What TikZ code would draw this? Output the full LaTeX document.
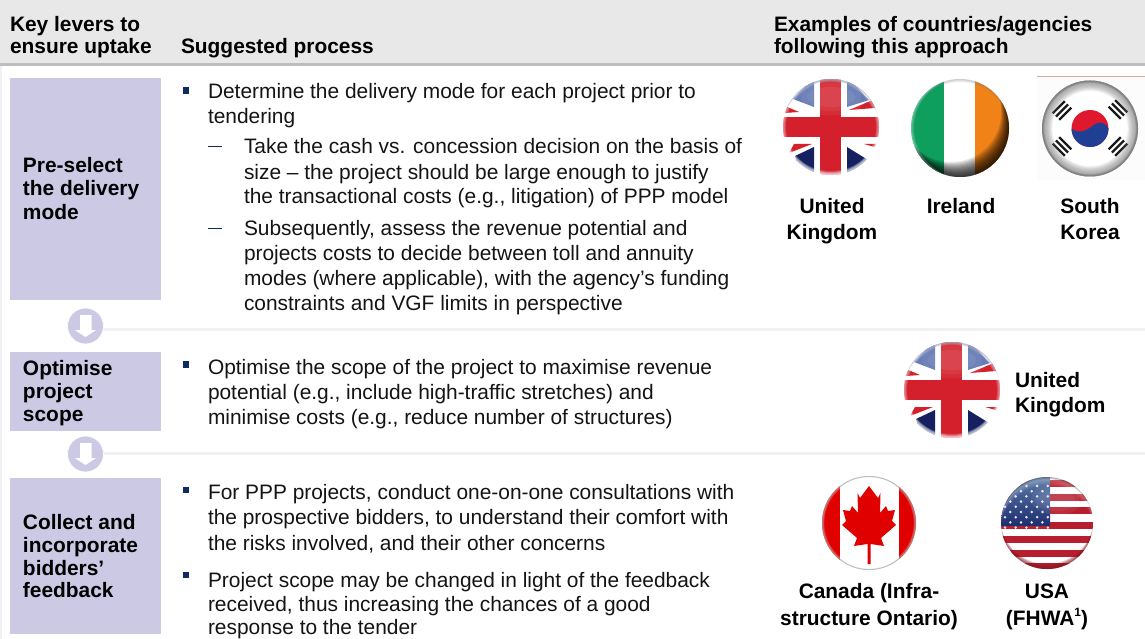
\documentclass[tikz,border=0pt]{standalone}
\usepackage{fontspec}
\setmainfont{Liberation Sans}
\usetikzlibrary{calc}
\definecolor{hdr}{HTML}{E8E8E8}
\definecolor{hdrline}{HTML}{BDBDBD}
\definecolor{lav}{HTML}{CCC9E5}
\definecolor{sep}{HTML}{F0F0F5}
\definecolor{navy}{HTML}{0F2A5C}
\definecolor{ink}{HTML}{141414}
\definecolor{ukblue}{HTML}{14205F}
\definecolor{ukpale}{HTML}{5E74B0}
\definecolor{ukred}{HTML}{D3202C}
\definecolor{irgreen}{HTML}{0E9F5E}
\definecolor{irorange}{HTML}{F08218}
\definecolor{krred}{HTML}{E0182D}
\definecolor{krblue}{HTML}{1F3F94}
\definecolor{usred}{HTML}{B81F2E}
\definecolor{usblue}{HTML}{1F2F70}
\definecolor{uspale}{HTML}{5A7AA8}
\tikzset{
  x=1pt,y=-1pt,
  txt/.style={anchor=base west,inner sep=0pt,outer sep=0pt,font=\fontsize{20.9}{24}\selectfont,text=ink},
  hd/.style={txt,font=\fontsize{20.9}{24}\selectfont\bfseries,text=black},
  lev/.style={txt,font=\fontsize{20.9}{24}\selectfont\bfseries,text=black},
  ctr/.style={lev,anchor=base},
  leverbox/.style={fill=lav,draw=none},
  sepline/.style={draw=sep,line width=3pt},
  blt/.style={fill=navy,draw=none,minimum size=6.3pt,inner sep=0pt,outer sep=0pt,anchor=center},
  dsh/.style={draw=navy,line width=1.8pt},
  downcirc/.style={circle,fill=lav,draw=white!92!lav,line width=0.8pt,minimum size=36pt,inner sep=0pt},
}
\begin{document}
\begin{tikzpicture}
\useasboundingbox (0,0) rectangle (1145,639);
\fill[white] (0,0) rectangle (1145,639);
% header
\fill[hdr] (0,0) rectangle (1145,63);
\fill[hdrline] (0,63) rectangle (1145,66.5);
\fill[sep] (0,66.5) rectangle (2,639);
\node[hd] (h1a) at (10,32) {Key levers to};
\node[hd] (h1b) at (10,54) {ensure uptake};
\node[hd] (h2) at (181,54) {Suggested process};
\node[hd] (h3a) at (774,32) {Examples of countries/agencies};
\node[hd] (h3b) at (774,54) {following this approach};
% separators
\coordinate (s1a) at (103,329); \coordinate (s1b) at (1145,329);
\coordinate (s2a) at (103,453); \coordinate (s2b) at (1145,453);
\draw[sepline] (s1a) -- (s1b);
\draw[sepline] (s2a) -- (s2b);
% lever boxes
\fill[leverbox] (10,78) rectangle (161,300);
\fill[leverbox] (10,352) rectangle (161,431);
\fill[leverbox] (10,478) rectangle (161,634);
\node[lev] (l1a) at (23,173) {Pre-select};
\node[lev] (l1b) at (23,196) {the delivery};
\node[lev] (l1c) at (23,219) {mode};
\node[lev] (l2a) at (23,375) {Optimise};
\node[lev] (l2b) at (23,398) {project};
\node[lev] (l2c) at (23,421) {scope};
\node[lev] (l3a) at (23,529) {Collect and};
\node[lev] (l3b) at (23,552) {incorporate};
\node[lev] (l3c) at (23,575) {bidders’};
\node[lev] (l3d) at (23,597) {feedback};
% down arrows
\foreach \n/\cy in {d1/326,d2/454}{
  \node[downcirc] (\n) at (85.5,\cy) {};
  \fill[white] (80,\cy-11) -- (91.5,\cy-11) -- (91.5,\cy+4) -- (96,\cy+4) -- (85.5,\cy+11) -- (75,\cy+4) -- (80,\cy+4) -- cycle;
}
% bullets
\node[blt] (b1) at (186,90.5) {};
\node[blt] (b2) at (186,364.5) {};
\node[blt] (b3) at (186,490) {};
\node[blt] (b4) at (186,575) {};
\draw[dsh] (208,146.5) -- (222,146.5);
\draw[dsh] (208,228.5) -- (222,228.5);
% body text
\node[txt] (t1) at (208,99) {Determine the delivery mode for each project prior to};
\node[txt] (t2) at (208,124) {tendering};
\node[txt] (t3) at (244,154) {Take the cash vs. concession decision on the basis of};
\node[txt] (t4) at (244,179) {size – the project should be large enough to justify};
\node[txt] (t5) at (244,204) {the transactional costs (e.g., litigation) of PPP model};
\node[txt] (t6) at (244,235) {Subsequently, assess the revenue potential and};
\node[txt] (t7) at (244,260) {projects costs to decide between toll and annuity};
\node[txt] (t8) at (244,285) {modes (where applicable), with the agency’s funding};
\node[txt] (t9) at (244,310) {constraints and VGF limits in perspective};
\node[txt] (t10) at (208,374) {Optimise the scope of the project to maximise revenue};
\node[txt] (t11) at (208,399) {potential (e.g., include high-traffic stretches) and};
\node[txt] (t12) at (208,424) {minimise costs (e.g., reduce number of structures)};
\node[txt] (t13) at (208,499) {For PPP projects, conduct one-on-one consultations with};
\node[txt] (t14) at (208,524) {the prospective bidders, to understand their comfort with};
\node[txt] (t15) at (208,550) {the risks involved, and their other concerns};
\node[txt] (t17) at (208,587) {Project scope may be changed in light of the feedback};
\node[txt] (t18) at (208,611.5) {received, thus increasing the chances of a good};
\node[txt] (t19) at (208,634.6) {response to the tender};
% UK flags
\foreach \cx/\cy in {831/127,952/390}{
\begin{scope}[shift={(\cx,\cy)}]
  \begin{scope}
    \clip (0,0) circle (48);
    \fill[white] (-50,-50) rectangle (50,50);
    \fill[ukpale] (-38,-28) -- (-17,-50) -- (-17,-20) -- cycle;
    \fill[ukpale] (16,-50) -- (38,-27) -- (16,-20) -- cycle;
    \fill[ukblue] (-36,29) -- (-17,20) -- (-17,50) -- (-30,50) -- cycle;
    \fill[ukblue] (16,20) -- (37,33) -- (30,50) -- (16,50) -- cycle;
    \fill[ukred] (18,-17) -- (44,-28) -- (44,-19) -- cycle;
    \fill[ukred] (-46,-21) -- (-32,-15) -- (-46,-14) -- cycle;
    \fill[ukred] (-42,26) -- (-19,17) -- (-37,17) -- cycle;
    \fill[ukred] (33,17) -- (47,17) -- (47,21) -- cycle;
    \fill[ukred] (-11,-50) rectangle (9.5,50);
    \fill[ukred] (-50,-10) rectangle (50,10);
    % darker rim on top, soft white glow low down
    \foreach \k in {2,4,6}{
      \fill[ukblue,opacity=0.3,even odd rule] (0,0) circle (49) (0,\k*0.5) circle (49);
    }
    \foreach \k in {2,4,6,8,10}{
      \fill[white,opacity=0.16,even odd rule] (0,0) circle (49) (0,-\k*0.5) circle (49);
    }
    \foreach \k in {1,...,5}{
      \draw[white,opacity=0.12,line width=\k*1.2pt] (0,0) circle (48);
    }
    \foreach \k in {8,14,20}{
      \fill[white,opacity=0.06] (0,-30) ellipse ({44-\k} and {24-\k*0.7});
    }
  \end{scope}
\end{scope}
}
% Ireland
\begin{scope}[shift={(960,128)}]
  \clip (0,0) circle (49);
  \fill[irgreen] (-50,-50) rectangle (-16,50);
  \fill[white] (-16,-50) rectangle (15,50);
  \fill[irorange] (15,-50) rectangle (50,50);
  \foreach \k in {1,...,16}{
    \fill[black,opacity=0.09,even odd rule] (0,0) circle (50) (-\k*0.55,-\k) circle (50);
  }
  \foreach \k in {1,...,4}{
    \fill[gray,opacity=0.14,even odd rule] (0,0) circle (50) (0,\k*1.0) circle (50);
  }
  \foreach \k in {1,...,4}{
    \fill[white,opacity=0.13,even odd rule] (0,0) circle (50) (\k*1.0,0) circle (50);
  }
\end{scope}
% South Korea
\fill[white!98!gray] (1037,76) rectangle (1145,180);
\draw[red!40!gray!50,line width=0.8pt] (1037,76.5) -- (1145,76.5);
\begin{scope}[shift={(1090,128.5)}]
  \begin{scope}
    \clip (0,0) circle (48);
    \fill[white] (-50,-50) rectangle (50,50);
    \fill[krred] (0,0) circle (18.5);
    \fill[krblue] (-18.5,0) arc[start angle=180,end angle=0,radius=18.5]
      .. controls (16,-6) and (9,-8) .. (3,-3)
      .. controls (-3,2) and (-12,6) .. (-18.5,0) -- cycle;
    \foreach \a/\px/\py in {0/-28/-18,90/28/-19,180/28/18,270/-28/18}{
      \begin{scope}[shift={(\px,\py)},rotate=\a+45]
        \foreach \d in {-4.6,0,4.6}{
          \draw[black!90,line width=2.4pt] (-8.5,\d) -- (8.5,\d);
        }
      \end{scope}
    }
    \foreach \k in {1,...,13}{
      \draw[gray,opacity=0.09,line width=\k*1.6pt] (0,0) circle (48);
    }
    \foreach \k in {1,...,3}{
      \draw[black!60,opacity=0.22,line width=\k*1.2pt] (0,0) circle (47.5);
    }
  \end{scope}
\end{scope}
% Canada
\begin{scope}[shift={(869,523)}]
  \clip (0,0) circle (47);
  \fill[white] (-48,-48) rectangle (48,48);
  \fill[red!88!black] (-48,-48) rectangle (-29,48);
  \fill[red!88!black] (30,-48) rectangle (48,48);
  \fill[red!88!black] (0,-37) -- (-9,-25) -- (-11.5,-30) -- (-11,-10) -- (-17,-17) -- (-19,-12) -- (-26,-13) -- (-23,-2) -- (-27,2) -- (-12,15) -- (-15,23) -- (-1.5,21) -- (-1.5,41) -- (1.5,41) -- (1.5,21) -- (15,23) -- (12,15) -- (27,2) -- (23,-2) -- (26,-13) -- (19,-12) -- (17,-17) -- (11,-10) -- (11.5,-30) -- (9,-25) -- cycle;
  \foreach \k in {1,...,4}{
    \draw[white,opacity=0.14,line width=\k*1.2pt] (0,0) circle (47);
  }
  \foreach \k in {1,...,3}{
    \draw[gray,opacity=0.25,line width=\k*0.8pt] (0,0) circle (47);
  }
\end{scope}
% USA
\begin{scope}[shift={(1047,523)}]
  \begin{scope}
    \clip (0,0) circle (46);
    \fill[white] (-48,-48) rectangle (48,48);
    \foreach \y in {-40,-25.5,-13,2,16,30,43}{
      \fill[usred] (-48,\y-3.5) rectangle (48,\y+3.5);
    }
    \shade[top color=uspale,bottom color=usblue] (-48,-46) rectangle (3,2);
    \foreach \r in {0,2,4,6,8}{
      \foreach \c in {0,...,4}{
        \fill[white!90!usblue] (-42+\c*10.7,-37+\r*5.2) circle (1.4);
      }
    }
    \foreach \r in {1,3,5,7}{
      \foreach \c in {0,...,3}{
        \fill[white!90!usblue] (-36.7+\c*10.7,-37+\r*5.2) circle (1.4);
      }
    }
    \foreach \k in {1,...,6}{
      \fill[usred!70!black,opacity=0.22,even odd rule] (0,0) circle (47) (0,-\k) circle (47);
    }
    \foreach \k in {1,...,6}{
      \fill[white,opacity=0.07,even odd rule] (0,0) circle (47) (0,\k*1.5) circle (47);
    }
    \foreach \k in {1,...,3}{
      \fill[black,opacity=0.16,even odd rule] (0,0) circle (47) (0,\k) circle (47);
    }
    \foreach \k in {4,8,12}{
      \fill[white,opacity=0.06] (10,-24) ellipse ({30-\k} and {20-\k});
    }
  \end{scope}
\end{scope}
% flag labels
\node[ctr] (f1a) at (832,214) {United};
\node[ctr] (f1b) at (832,239) {Kingdom};
\node[ctr] (f2) at (961,214) {Ireland};
\node[ctr] (f3a) at (1090,214) {South};
\node[ctr] (f3b) at (1090,239) {Korea};
\node[lev] (f4a) at (1015,387) {United};
\node[lev] (f4b) at (1015,412) {Kingdom};
\node[ctr] (f5a) at (869,598) {Canada (Infra-};
\node[ctr] (f5b) at (869,625) {structure Ontario)};
\node[ctr] (f6a) at (1047,598) {USA};
\node[ctr] (f6b) at (1047,625) {(FHWA\raisebox{0.42em}{\fontsize{12}{12}\selectfont\bfseries 1})};
\end{tikzpicture}
\end{document}
